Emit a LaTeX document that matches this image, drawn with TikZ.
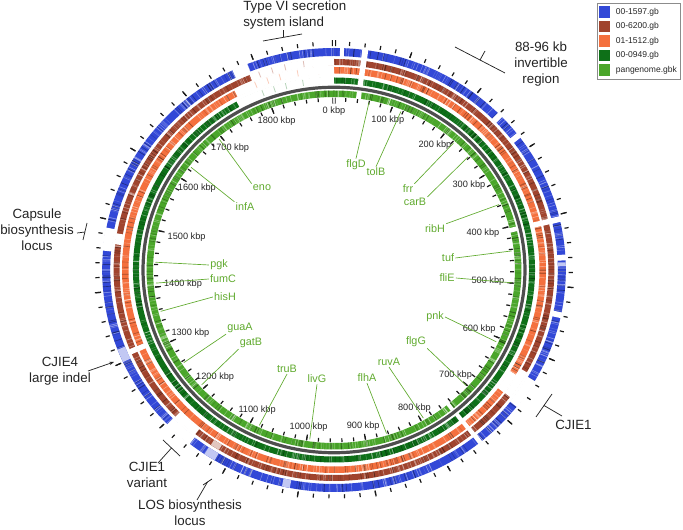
\documentclass[tikz,border=0pt]{standalone}
\usepackage{fontspec}
\setmainfont{Liberation Sans}
\usetikzlibrary{arrows.meta}
\definecolor{cblue}{RGB}{50,72,215}
\definecolor{cbrown}{RGB}{160,68,46}
\definecolor{corange}{RGB}{244,112,62}
\definecolor{cdgreen}{RGB}{14,112,24}
\definecolor{clgreen}{RGB}{74,166,42}
\definecolor{cgray}{RGB}{78,78,78}
\definecolor{genecol}{RGB}{96,170,46}
\definecolor{anncol}{RGB}{35,35,35}
\newcommand\kdeg{0.18878}
% ring: colour, mid radius, width (px), seed
\newcommand\myring[4]{%
  \pgfmathsetmacro\lwr{#3*0.75}%
  \draw[#1, line width=\lwr pt] (90:#2) arc[start angle=90, end angle=-270, radius=#2];
  \pgfmathsetseed{#4}%
  \pgfmathsetmacro\rin{#2-#3/2}%
  \pgfmathsetmacro\rout{#2+#3/2}%
  \foreach \i in {1,...,420}{%
    \pgfmathsetmacro\ang{rnd*360}%
    \pgfmathsetmacro\op{0.08+0.4*rnd}%
    \draw[white, opacity=\op, line width=0.4pt] (\ang:\rin) -- (\ang:\rout);
  }%
  \foreach \i in {1,...,220}{%
    \pgfmathsetmacro\ang{rnd*360}%
    \pgfmathsetmacro\op{0.1+0.3*rnd}%
    \draw[black, opacity=\op, line width=0.5pt] (\ang:\rin) -- (\ang:\rout);
  }%
}
% gap: radius, width, theta1, theta2 (clockwise from top)
\newcommand\ringgap[4]{%
  \pgfmathsetmacro\lwg{#2*0.75+1}%
  \pgfmathsetmacro\ga{90-#3}%
  \pgfmathsetmacro\gb{90-#4}%
  \draw[white, line width=\lwg pt] (\ga:#1) arc[start angle=\ga, end angle=\gb, radius=#1];}
% faded segment: colour, radius, width, theta1, theta2
\newcommand\ringfade[5]{%
  \pgfmathsetmacro\lwf{#3*0.75}%
  \pgfmathsetmacro\ga{90-#4}%
  \pgfmathsetmacro\gb{90-#5}%
  \draw[#1!30, line width=\lwf pt] (\ga:#2) arc[start angle=\ga, end angle=\gb, radius=#2];}
\begin{document}
\begin{tikzpicture}[x=0.75pt,y=-0.75pt,
  kbplab/.style={font=\fontsize{6.9}{8}\selectfont, text=black!85, inner sep=1pt},
  gene/.style={font=\fontsize{8.1}{9.5}\selectfont, text=genecol, inner sep=0.8pt},
  geneline/.style={draw=genecol, line width=0.5pt},
  bigl/.style={font=\fontsize{10}{12}\selectfont, text=anncol, inner sep=0pt},
  annline/.style={draw=anncol, line width=0.55pt},
  tickm/.style={draw=black!90, line width=0.9pt},
  legsq/.style={minimum width=8.3pt, minimum height=8.3pt, inner sep=0pt},
  legtxt/.style={font=\fontsize{6.4}{7.5}\selectfont, text=black!85, anchor=west, inner sep=0pt}]
\useasboundingbox (0,0) rectangle (683,530);

\begin{scope}[shift={(334,270)}, x=0.78375pt, y=0.75pt]
  % rings
  \myring{clgreen}{176.25}{6.5}{11}
  \draw[cgray, line width=2.4pt] (90:182.75) arc[start angle=90, end angle=-270, radius=182.75];
  \myring{cdgreen}{189.5}{6}{22}
  \myring{corange}{199.75}{6.5}{33}
  \myring{cbrown}{208}{6}{44}
  \myring{cblue}{218}{8}{55}
  % gaps common
  \foreach \r/\w in {176.25/6.5, 189.5/6, 199.75/6.5, 208/6, 218/8}{
    \ringgap{\r}{\w}{7}{8.5}
    \ringgap{\r}{\w}{140.3}{141.5}
  }
  \foreach \r/\w in {176.25/6.5, 199.75/6.5, 208/6, 218/8}{
    \ringgap{\r}{\w}{76}{77.5}
  }
  % CJIE1
  \ringgap{218}{8}{120}{128}
  \ringgap{208}{6}{119}{127}
  \ringgap{199.75}{6.5}{121}{127}
  % Type VI island
  \ringgap{218}{8}{334}{338}
  \ringgap{208}{6}{337.5}{360}
  \ringgap{199.75}{6.5}{332}{360}
  \ringgap{189.5}{6}{331}{360}
  % blue small gaps
  \ringgap{218}{8}{1.5}{2.5}
  \ringgap{218}{8}{45}{46.5}
  \ringgap{218}{8}{52}{53.5}
  \ringgap{218}{8}{86}{87.5}
  \ringgap{218}{8}{101}{102.5}
  % CJIE1 variant
  \ringgap{218}{8}{218.5}{226}
  \ringgap{208}{6}{219}{226}
  % capsule
  \ringgap{218}{8}{275}{281}
  \ringgap{208}{6}{277}{280}
  % CJIE4
  \ringgap{208}{6}{246.5}{248}
  \ringgap{199.75}{6.5}{246.5}{248}
  % faded parts
  \ringfade{cblue}{218}{8}{245.5}{249}
  \ringfade{cblue}{218}{8}{211}{214}
  \ringfade{cbrown}{208}{6}{211.5}{214}
  \ringfade{cblue}{218}{8}{191}{193}
  \ringfade{cblue}{218}{8}{88}{89}
  % faint bits in type VI gap
  \foreach \t in {340,343.5,347,352}{
    \pgfmathsetmacro\al{90-\t}
    \draw[cbrown!35, line width=0.6pt] (\al:205) -- (\al:211);
    \draw[corange!35, line width=0.6pt] (\al+2:196.5) -- (\al+2:203);
    \draw[cdgreen!30, line width=0.6pt] (\al+1:186.5) -- (\al+1:192.5);
  }
  % ticks
  \foreach \k in {20,40,...,1880}{
    \pgfmathsetmacro\al{90-\k*\kdeg}
    \draw[tickm] (\al:168.5) -- (\al:172.3);
    \draw[tickm] (\al:224.5) -- (\al:228.5);
  }
  \foreach \k in {100,200,...,1800}{
    \pgfmathsetmacro\al{90-\k*\kdeg}
    \draw[tickm] (\al:166.5) -- (\al:172.3);
    \draw[tickm] (\al:224) -- (\al:230);
  }
  \foreach \a in {89.6,90.4}{
    \draw[tickm, line width=0.7pt] (\a:166.5) -- (\a:172.3);
    \draw[tickm, line width=0.7pt] (\a:224) -- (\a:230);
  }
  % kbp labels
  \foreach \k in {0,100,...,1800}{
    \pgfmathsetmacro\al{90-\k*\kdeg}
    \pgfmathsetmacro\an{mod(\al+720,360)}
    \node[kbplab, anchor=\an] (kb\k) at (\al:165) {\k\ kbp};
  }
\end{scope}

% gene labels
\foreach \nm/\px/\py/\an/\th in {
 flgD/356/165/north/11.3, tolB/376/172/north/22, frr/408/189/north east/42, carB/415/202/north east/48.6,
 ribH/435/229/north east/67.5, tuf/448/258/east/83.6, fliE/447/278/east/94.3, pnk/435/317/east/114.8,
 flgG/416/342/south east/132.4, ruvA/389/362/south/150, flhA/367/378/south/162.9, livG/317/379/south/187.8,
 truB/287/369/south/204.7, gatB/251/343/south west/227.8, guaA/240/328/south west/237.2,
 hisH/225/297/west/256, fumC/223/279/west/265.6, pgk/219/265/west/272.6, infA/245/207/north west/306.9,
 eno/262/188/north west/320}{
  \node[gene] (g\nm) at (\px,\py) {\nm};
  \coordinate (p\nm) at ({334+178.7*sin(\th)},{270-171*cos(\th)});
  \draw[geneline] (g\nm.\an) -- (p\nm);
}

% annotations
\node[bigl, align=left, anchor=north west] (t6) at (243,1) {Type VI secretion\\system island};
\coordinate (t6a) at (263,41);
\coordinate (t6b) at (302,34);
\coordinate (t6m) at (283,37.4);
\draw[annline] (t6a) -- (t6b);
\draw[annline] (t6m) -- (t6m |- t6.south);

\node[bigl, align=center, anchor=north] (inv) at (541,42) {88-96 kb\\invertible\\region};
\coordinate (iva) at (455,47);
\coordinate (ivb) at (505,73);
\coordinate (ivm) at (480,60);
\coordinate (ivs) at (485,51);
\draw[annline] (iva) -- (ivb);
\draw[annline] (ivm) -- (ivs);

\node[bigl, align=center, anchor=north] (cap) at (37,209) {Capsule\\biosynthesis\\locus};
\coordinate (cpa) at (87,223);
\coordinate (cpb) at (83,240);
\coordinate (cpm) at (85,232);
\coordinate (cps) at (77,233);
\draw[annline] (cpa) -- (cpb);
\draw[annline] (cps) -- (cpm);

\node[bigl, align=center, anchor=north] (cj4) at (60,357) {CJIE4\\large indel};
\coordinate (cj4s) at (88,371);
\coordinate (cj4e) at (114,362);
\draw[annline, -{Stealth[length=3.5pt, width=2.5pt]}] (cj4s) -- (cj4e);

\node[bigl, align=center, anchor=north] (cjv) at (147,462) {CJIE1\\variant};
\coordinate (cva) at (163,440);
\coordinate (cvb) at (180,456);
\coordinate (cvm) at (171.5,448);
\coordinate (cvs) at (158,463);
\draw[annline] (cva) -- (cvb);
\draw[annline] (cvm) -- (cvs);

\node[bigl, align=center, anchor=north] (los) at (190,500) {LOS biosynthesis\\locus};
\coordinate (lsa) at (203,485);
\coordinate (lsb) at (212,479);
\coordinate (lsm) at (207.5,482);
\coordinate (lss) at (197,500);
\draw[annline] (lsa) -- (lsb);
\draw[annline] (lsm) -- (lss);

\node[bigl, anchor=west] (cj1) at (555,425) {CJIE1};
\coordinate (c1a) at (536,417);
\coordinate (c1b) at (552,394);
\coordinate (c1m) at (544,405.5);
\coordinate (c1s) at (562,416);
\draw[annline] (c1a) -- (c1b);
\draw[annline] (c1m) -- (c1s);

% legend
\node[draw=black!45, line width=0.5pt, minimum width=62.25pt, minimum height=57pt, inner sep=0pt] (legbox) at (638.5,41) {};
\foreach \i/\c/\t in {0/cblue/00-1597.gb, 1/cbrown/00-6200.gb, 2/corange/01-1512.gb, 3/cdgreen/00-0949.gb, 4/clgreen/pangenome.gbk}{
  \node[legsq, fill=\c] (lsq\i) at (604.5,{12+14.5*\i}) {};
  \node[legtxt] (ltx\i) at (615.5,{12+14.5*\i}) {\t};
}
\end{tikzpicture}
\end{document}
